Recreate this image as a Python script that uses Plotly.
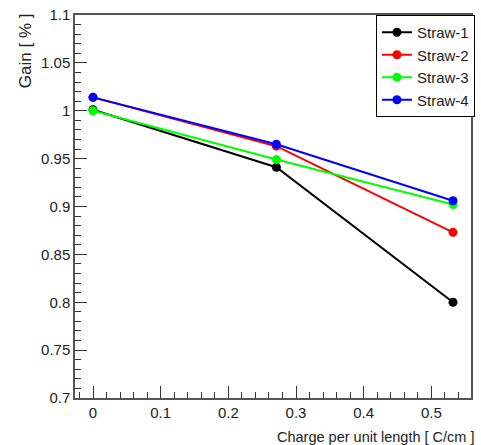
import plotly.graph_objects as go

# Charge per unit length [C/cm] at which the gain was measured
charge = [0.0, 0.271, 0.532]

# Relative gain for each straw
straw_names = ["Straw-1", "Straw-2", "Straw-3", "Straw-4"]
gain_straw1 = [1.001, 0.941, 0.800]
gain_straw2 = [1.014, 0.963, 0.873]
gain_straw3 = [1.000, 0.949, 0.902]
gain_straw4 = [1.014, 0.965, 0.906]
colors = ["#000000", "#ff0000", "#00ff00", "#0000ff"]

FONT = "Liberation Sans, Arial, sans-serif"

fig = go.Figure()
for name, gains, col in zip(straw_names,
                            [gain_straw1, gain_straw2, gain_straw3, gain_straw4],
                            colors):
    fig.add_trace(go.Scatter(
        x=charge, y=gains, name=name, mode="lines+markers",
        line=dict(color=col, width=2),
        marker=dict(color=col, size=9, symbol="circle"),
    ))

axis_common = dict(
    showgrid=False, zeroline=False,
    showline=True, linecolor="#555", linewidth=1.5, mirror=True,
    ticks="inside", tickcolor="#333", tickwidth=1,
    tickfont=dict(family=FONT, size=15, color="#222"),
)

fig.update_xaxes(
    range=[-0.0266, 0.5586], tick0=0, dtick=0.1, ticklen=12,
    minor=dict(dtick=0.02, ticks="inside", ticklen=6, tickcolor="#333"),
    **axis_common,
)
fig.update_yaxes(
    range=[0.7, 1.1], tick0=0.7, dtick=0.05, ticklen=12,
    minor=dict(dtick=0.01, ticks="inside", ticklen=6, tickcolor="#333"),
    **axis_common,
)

fig.add_annotation(
    text="Gain [ % ]", textangle=-90, xref="paper", yref="paper",
    x=-0.125, y=1.01, xanchor="center", yanchor="top", showarrow=False,
    font=dict(family=FONT, size=17, color="#222"),
)
fig.add_annotation(
    text="Charge per unit length [ C/cm ]", xref="paper", yref="paper",
    x=1.013, y=-0.101, xanchor="right", yanchor="middle", showarrow=False,
    font=dict(family=FONT, size=14.5, color="#222"),
)

fig.update_layout(
    width=481, height=445,
    margin=dict(l=75, r=6, t=13, b=47),
    paper_bgcolor="white", plot_bgcolor="white",
    font=dict(family=FONT, size=15, color="#222"),
    legend=dict(
        x=0.76, y=1.0, xanchor="left", yanchor="top",
        bgcolor="white", bordercolor="#000", borderwidth=1,
        font=dict(family=FONT, size=15, color="#222"),
        itemwidth=30, tracegroupgap=0,
    ),
)

fig.write_html("out.html")
